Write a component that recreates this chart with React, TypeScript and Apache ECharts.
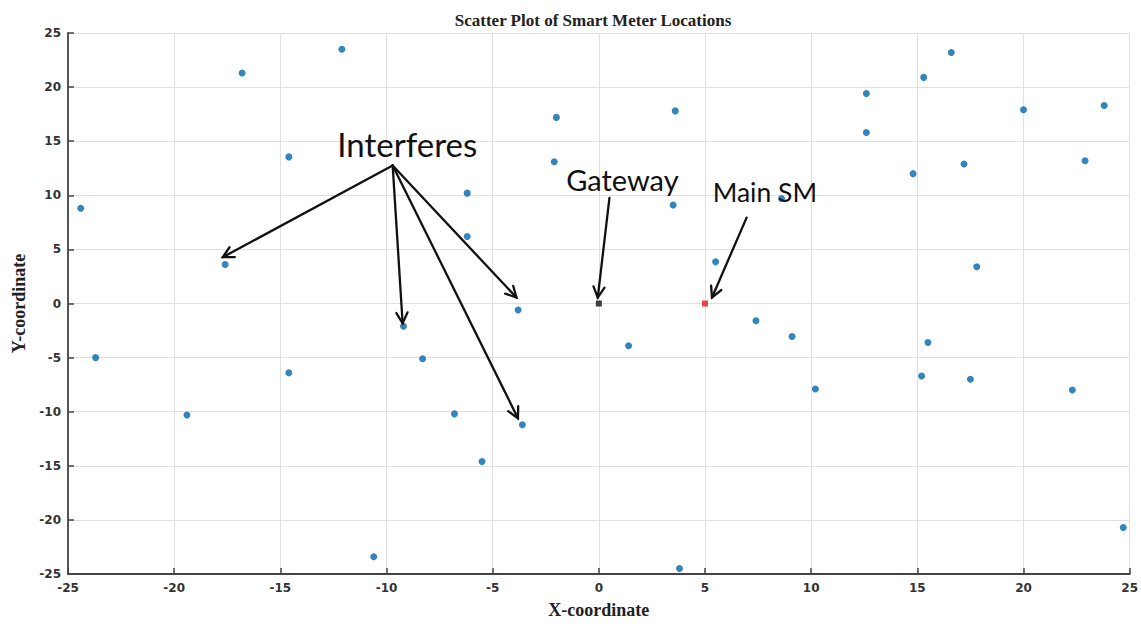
import React, { useEffect, useRef } from "react";
import * as echarts from "echarts";

const TITLE = "Scatter Plot of Smart Meter Locations";
const X_NAME = "X-coordinate";
const Y_NAME = "Y-coordinate";

const meterX = [
  -24.4, -23.7, -19.4, -17.6, -16.8, -14.6, -14.6, -12.1, -10.6, -9.2,
  -8.3, -6.8, -6.2, -6.2, -5.5, -3.8, -3.6, -2.1, -2.0, 1.4,
  3.5, 3.6, 3.8, 5.5, 7.4, 8.6, 9.1, 10.2, 12.6, 12.6,
  14.8, 15.2, 15.3, 15.5, 16.6, 17.2, 17.5, 17.8, 20.0, 22.3,
  22.9, 23.8, 24.7,
];
const meterY = [
  8.8, -5.0, -10.3, 3.6, 21.3, 13.55, -6.4, 23.5, -23.4, -2.1,
  -5.1, -10.2, 10.2, 6.2, -14.6, -0.6, -11.2, 13.1, 17.2, -3.9,
  9.1, 17.8, -24.5, 3.85, -1.6, 9.7, -3.05, -7.9, 19.4, 15.8,
  12.0, -6.7, 20.9, -3.6, 23.2, 12.9, -7.0, 3.4, 17.9, -8.0,
  13.2, 18.3, -20.7,
];
const gateway = [0, 0];
const mainSM = [5, 0];

// annotation anchors in data coordinates
const interferesLabel = { text: "Interferes", x: -9.02, y: 14.74, size: 33 };
const interferesFrom = [-9.71, 12.76];
const interferesTo = [
  [-17.71, 4.28],
  [-9.24, -1.83],
  [-3.88, 0.55],
  [-3.81, -10.6],
];
const gatewayLabel = { text: "Gateway", x: 1.11, y: 11.42, size: 29 };
const gatewayArrow = [[0.5, 9.77], [-0.05, 0.55]];
const mainLabel = { text: "Main SM", x: 7.82, y: 10.32, size: 26.5 };
const mainArrow = [[6.96, 7.94], [5.33, 0.55]];

const X_TICKS = { min: -25, max: 25, interval: 5 };
const Y_TICKS = { min: -25, max: 25, interval: 5 };

export default function App() {
  const ref = useRef<HTMLDivElement>(null);
  useEffect(() => {
    if (!ref.current) return;
    const chart = echarts.init(ref.current, null, { renderer: "svg" });
    const tickLabel = {
      color: "#333",
      fontFamily: "DejaVu Sans",
      fontWeight: "bold" as const,
      fontSize: 12,
    };
    const axisCommon = {
      type: "value" as const,
      nameLocation: "middle" as const,
      nameTextStyle: {
        fontFamily: "Liberation Serif",
        fontWeight: "bold" as const,
        fontSize: 18,
        color: "#222",
      },
      axisLine: { show: true, onZero: false, lineStyle: { color: "#444", width: 1.8 } },
      axisTick: { show: true, inside: true, length: 6, lineStyle: { color: "#444", width: 1.5 } },
      splitLine: { show: true, lineStyle: { color: "#e0e0e0", width: 1 } },
      axisLabel: { ...tickLabel, showMinLabel: true, showMaxLabel: true },
    };
    const option: any = {
      animation: false,
      backgroundColor: "#fff",
      title: {
        text: TITLE,
        left: 588,
        top: 7,
        textAlign: "center",
        textStyle: {
          fontFamily: "Liberation Serif",
          fontWeight: "bold",
          fontSize: 17,
          color: "#222",
        },
      },
      grid: { left: 68, right: 9, top: 33, bottom: 45, containLabel: false },
      xAxis: {
        ...axisCommon,
        ...X_TICKS,
        name: X_NAME,
        nameGap: 27,
        axisLabel: { ...axisCommon.axisLabel, margin: 8 },
      },
      yAxis: {
        ...axisCommon,
        ...Y_TICKS,
        name: Y_NAME,
        nameGap: 40,
        axisLabel: { ...axisCommon.axisLabel, margin: 7 },
      },
      series: [
        {
          type: "scatter",
          data: meterX.map((x, i) => [x, meterY[i]]),
          symbol: "circle",
          symbolSize: 7,
          itemStyle: { color: "#0066ad" },
        },
        {
          type: "scatter",
          data: [gateway],
          symbol: "rect",
          symbolSize: 6,
          itemStyle: { color: "#111" },
          z: 3,
        },
        {
          type: "scatter",
          data: [mainSM],
          symbol: "rect",
          symbolSize: 6,
          itemStyle: { color: "#e8141c" },
          z: 3,
        },
      ],
    };
    chart.setOption(option);

    const px = (p: number[]) => chart.convertToPixel({ gridIndex: 0 }, p) as number[];
    const arrow = (from: number[], to: number[]) => {
      const a = px(from);
      const b = px(to);
      const ang = Math.atan2(b[1] - a[1], b[0] - a[0]);
      const L = 12;
      const spread = Math.PI / 6.5;
      const h1 = [b[0] - L * Math.cos(ang - spread), b[1] - L * Math.sin(ang - spread)];
      const h2 = [b[0] - L * Math.cos(ang + spread), b[1] - L * Math.sin(ang + spread)];
      const st = { stroke: "#111", lineWidth: 2.3, fill: null, lineCap: "round", lineJoin: "miter" };
      return [
        { type: "line", shape: { x1: a[0], y1: a[1], x2: b[0], y2: b[1] }, style: st, z: 100 },
        { type: "polyline", shape: { points: [h1, b, h2] }, style: st, z: 100 },
      ];
    };
    const label = (l: { text: string; x: number; y: number; size: number }) => {
      const p = px([l.x, l.y]);
      return {
        type: "text",
        z: 101,
        style: {
          text: l.text,
          x: p[0],
          y: p[1],
          fontFamily: "Lato",
          fontSize: l.size,
          fill: "#111",
          textAlign: "center",
          textVerticalAlign: "middle",
          align: "center",
          verticalAlign: "middle",
        },
      };
    };
    const graphic: any[] = [
      ...interferesTo.flatMap((t) => arrow(interferesFrom, t)),
      ...arrow(gatewayArrow[0], gatewayArrow[1]),
      ...arrow(mainArrow[0], mainArrow[1]),
      label(interferesLabel),
      label(gatewayLabel),
      label(mainLabel),
    ];
    chart.setOption({ graphic });
    return () => chart.dispose();
  }, []);
  return (
    <div
      ref={ref}
      style={{ position: "fixed", left: 0, top: 0, width: 1141, height: 624 }}
    />
  );
}
